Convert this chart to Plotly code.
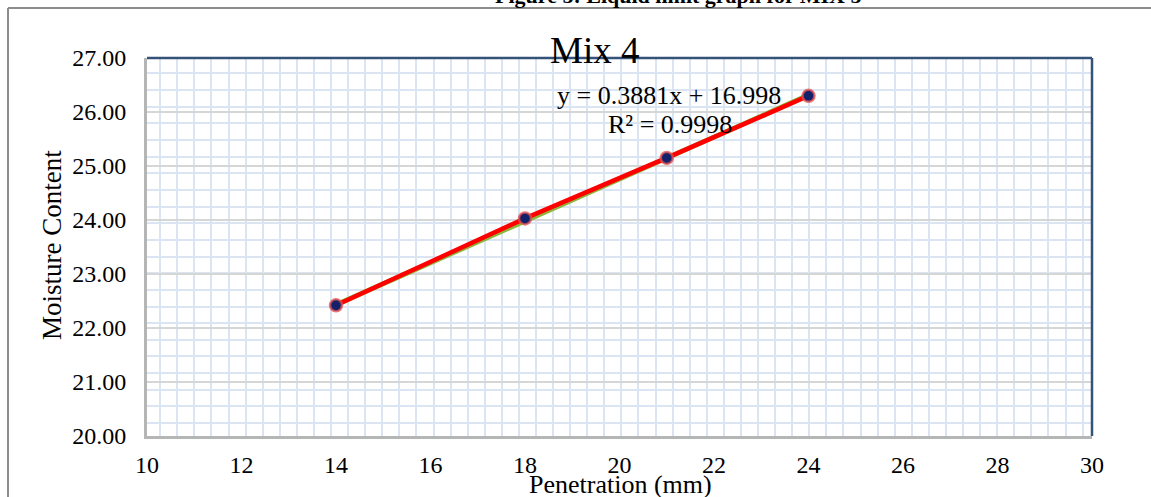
import plotly.graph_objects as go

# Cone penetration test readings
penetration = [14, 18, 21, 24]            # mm
moisture = [22.42, 24.03, 25.15, 26.30]   # %

# Linear trendline from the fitted equation
slope = 0.3881
intercept = 16.998
r_squared = 0.9998
trend_x = [14, 24]
trend_y = [slope * v + intercept for v in trend_x]

x_ticks = list(range(10, 31, 2))
y_ticks = [20, 21, 22, 23, 24, 25, 26, 27]

W, H = 1151, 497
L, R, T, B = 147, 1092, 58, 436
FONT = "Liberation Serif"


def px(x):
    return (x - L) / (R - L)


def py(y):
    return (B - y) / (B - T)


fig = go.Figure()

fig.add_trace(go.Scatter(
    x=trend_x, y=trend_y, mode="lines",
    line=dict(color="#8DB63C", width=5), hoverinfo="skip", showlegend=False,
))
fig.add_trace(go.Scatter(
    x=penetration, y=moisture, mode="lines+markers",
    line=dict(color="#FF0000", width=4.5),
    marker=dict(size=12, color="#13206A",
                line=dict(color="rgba(230,80,80,0.75)", width=2.5)),
    showlegend=False,
))

grid_blue = "#DAE4F2"

fig.update_layout(
    width=W, height=H,
    margin=dict(l=L, r=W - R, t=T, b=H - B),
    paper_bgcolor="white", plot_bgcolor="white",
    font=dict(family=FONT, color="black"),
    xaxis=dict(
        range=[10, 30], tickvals=x_ticks, ticktext=[str(v) for v in x_ticks],
        showgrid=False, zeroline=False,
        showline=True, linecolor="#B5B5B5", linewidth=3,
        ticks="", ticklabelstandoff=5,
        tickfont=dict(size=24, family=FONT),
        minor=dict(showgrid=True, tick0=10.28, dtick=0.3615,
                   gridcolor=grid_blue, gridwidth=2),
    ),
    yaxis=dict(
        range=[20, 27], tickvals=y_ticks, tickformat=".2f",
        showgrid=True, gridcolor="#D6D6D6", gridwidth=2,
        zeroline=False,
        showline=True, linecolor="#B5B5B5", linewidth=3,
        ticks="", ticklabelstandoff=13,
        tickfont=dict(size=24, family=FONT),
        minor=dict(showgrid=True, tick0=26.717, dtick=0.3085,
                   gridcolor=grid_blue, gridwidth=2),
    ),
    shapes=[
        # plot-area frame (top and right)
        dict(type="line", xref="paper", yref="paper", x0=0, x1=1, y0=1, y1=1,
             line=dict(color="#34527A", width=2.5), layer="above"),
        dict(type="line", xref="paper", yref="paper", x0=1, x1=1, y0=0, y1=1,
             line=dict(color="#34527A", width=2.5), layer="above"),
        # chart border
        dict(type="line", xref="paper", yref="paper",
             x0=px(8), x1=px(W + 5), y0=py(8), y1=py(8),
             line=dict(color="#8C8C8C", width=2)),
        dict(type="line", xref="paper", yref="paper",
             x0=px(8), x1=px(8), y0=py(8), y1=py(H + 5),
             line=dict(color="#8C8C8C", width=2)),
    ],
    annotations=[
        dict(text="<b>Figure 5: Liquid limit graph for MIX 5</b>",
             xref="paper", yref="paper", x=px(678), y=py(10),
             xanchor="center", yanchor="bottom", showarrow=False,
             font=dict(size=22, family=FONT)),
        dict(text="Mix 4", xref="paper", yref="paper", x=px(594), y=py(50),
             xanchor="center", yanchor="middle", showarrow=False,
             font=dict(size=37, family=FONT)),
        dict(text=f"y = {slope}x + {intercept}", xref="paper", yref="paper",
             x=px(669), y=py(95), xanchor="center", yanchor="middle",
             showarrow=False, font=dict(size=26, family=FONT)),
        dict(text=f"R² = {r_squared}", xref="paper", yref="paper",
             x=px(670), y=py(125), xanchor="center", yanchor="middle",
             showarrow=False, font=dict(size=26, family=FONT)),
        dict(text="Penetration (mm)", xref="paper", yref="paper",
             x=px(620), y=py(484), xanchor="center", yanchor="middle",
             showarrow=False, font=dict(size=26, family=FONT)),
        dict(text="Moisture Content", xref="paper", yref="paper",
             x=px(52), y=py(245), xanchor="center", yanchor="middle",
             textangle=-90, showarrow=False, font=dict(size=27, family=FONT)),
    ],
)

fig.write_html("out.html")
